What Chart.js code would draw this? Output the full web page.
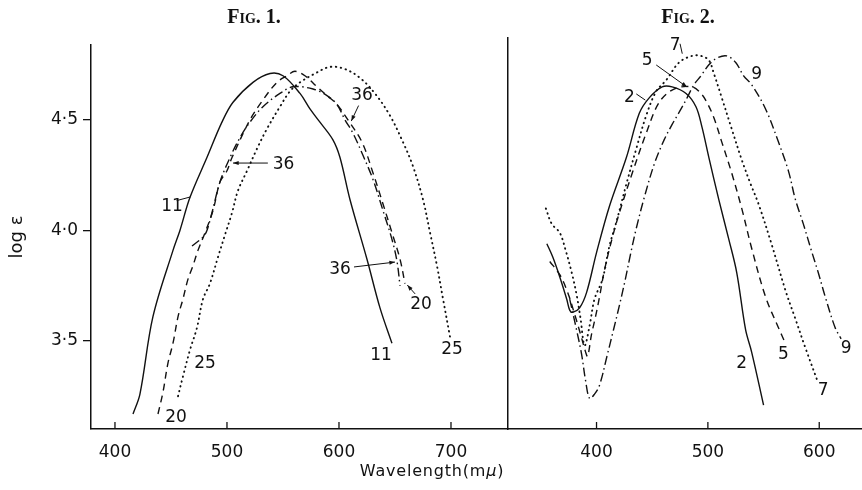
<!DOCTYPE html>
<html>
<head>
<meta charset="utf-8">
<script src="https://cdn.jsdelivr.net/npm/chart.js@4.4.1/dist/chart.umd.min.js"></script>
<style>
  body { margin: 0; background: #fff; }
  #wrap { position: relative; width: 862px; height: 490px; overflow: hidden; background: #fff; }
  canvas { position: absolute; top: 0; }
  .fig { position: absolute; top: 5px; font-family: "Liberation Serif", "DejaVu Serif", serif;
         font-variant: small-caps; font-weight: bold; font-size: 20px; color: #111; transform: translateX(-50%); }
  #xtitle { position: absolute; top: 461px; left: 432px; transform: translateX(-50%);
            font-family: "DejaVu Sans", sans-serif; font-size: 16px; letter-spacing: 0.8px; color: #111; }
</style>
</head>
<body>
<div id="wrap">
  <canvas id="fig1" width="508" height="490" style="left:0"></canvas>
  <canvas id="fig2" width="356" height="490" style="left:506px"></canvas>
  <div class="fig" style="left:254px">Fig. 1.</div>
  <div class="fig" style="left:688px">Fig. 2.</div>
  <div id="xtitle">Wavelength(m<i>μ</i>)</div>
</div>
<script>
// ---- Fig. 1 data (wavelength in mμ, log ε) ----
const f1x11 = [416.1, 422.3, 433.9, 451.8, 458.0, 467.0, 482.1, 495.5, 505.4, 523.2, 538.4, 550.0, 565.2, 574.1, 583.0, 594.6, 600.9, 609.8, 625.0, 636.6, 647.3];
const f1y11 = [3.17, 3.26, 3.61, 3.91, 4.00, 4.15, 4.33, 4.49, 4.58, 4.67, 4.71, 4.70, 4.62, 4.55, 4.49, 4.41, 4.33, 4.14, 3.87, 3.65, 3.49];

const f1x20 = [438.4, 442.9, 447.3, 451.8, 456.3, 460.7, 465.2, 469.6, 474.1, 480.4, 487.5, 493.8, 500.0, 504.5, 520.5, 532.1, 544.6, 553.6, 560.7, 569.6, 580.4, 589.3, 598.2, 608.0, 620.5, 630.4, 639.3, 647.3, 654.5, 658.9];
const f1y20 = [3.17, 3.27, 3.40, 3.49, 3.61, 3.69, 3.78, 3.84, 3.91, 3.99, 4.09, 4.22, 4.27, 4.33, 4.50, 4.59, 4.67, 4.70, 4.72, 4.70, 4.65, 4.61, 4.57, 4.50, 4.40, 4.26, 4.12, 3.99, 3.87, 3.76];

const f1x36 = [468.8, 478.6, 482.1, 486.6, 493.8, 502.7, 511.6, 520.5, 532.1, 547.3, 558.9, 576.8, 589.3, 598.2, 605.4, 612.5, 621.4, 630.4, 639.3, 647.3, 651.8, 654.5];
const f1y36 = [3.93, 3.97, 4.00, 4.08, 4.22, 4.33, 4.42, 4.49, 4.56, 4.62, 4.65, 4.64, 4.61, 4.57, 4.50, 4.44, 4.34, 4.23, 4.09, 3.96, 3.86, 3.75];

const f1x25 = [456.3, 460.7, 467.0, 473.2, 478.6, 484.8, 492.0, 498.2, 504.5, 509.8, 517.9, 526.8, 535.7, 547.3, 556.3, 565.2, 578.6, 592.0, 605.4, 618.8, 632.1, 645.5, 657.1, 666.1, 675.0, 681.3, 687.5, 692.9, 699.1];
const f1y25 = [3.25, 3.34, 3.46, 3.56, 3.69, 3.76, 3.88, 3.98, 4.08, 4.18, 4.27, 4.37, 4.46, 4.56, 4.63, 4.67, 4.71, 4.74, 4.73, 4.69, 4.62, 4.52, 4.40, 4.29, 4.14, 3.99, 3.84, 3.69, 3.52];

// ---- Fig. 2 data ----
const f2x2 = [355.4, 360.7, 367.0, 373.2, 375.9, 378.6, 384.8, 391.1, 400.0, 411.6, 426.8, 438.4, 447.3, 458.9, 467.9, 480.4, 489.3, 494.6, 500.9, 509.8, 518.8, 525.9, 533.9, 539.3, 550.0];
const f2y2 = [3.94, 3.88, 3.79, 3.69, 3.64, 3.63, 3.65, 3.72, 3.90, 4.11, 4.33, 4.53, 4.60, 4.65, 4.65, 4.62, 4.56, 4.47, 4.33, 4.14, 3.96, 3.81, 3.55, 3.45, 3.21];

const f2x5 = [358.0, 367.0, 374.1, 380.4, 385.7, 390.2, 392.0, 395.5, 399.1, 402.7, 407.1, 414.3, 420.5, 432.1, 444.6, 456.3, 469.6, 485.7, 493.8, 499.1, 505.4, 512.5, 521.4, 530.4, 539.3, 551.8, 563.4, 569.6];
const f2y5 = [3.86, 3.80, 3.72, 3.62, 3.53, 3.45, 3.43, 3.53, 3.61, 3.70, 3.82, 3.97, 4.08, 4.26, 4.44, 4.58, 4.64, 4.65, 4.62, 4.58, 4.51, 4.40, 4.26, 4.10, 3.92, 3.70, 3.56, 3.49];

const f2x7 = [354.5, 359.8, 367.0, 372.3, 377.7, 382.1, 385.7, 389.3, 393.8, 398.2, 405.4, 411.6, 417.9, 426.8, 435.7, 444.6, 453.6, 462.5, 474.1, 485.7, 493.8, 500.9, 505.4, 512.5, 521.4, 530.4, 538.4, 545.5, 557.1, 569.6, 578.6, 587.5, 599.1];
const f2y7 = [4.10, 4.03, 3.99, 3.91, 3.81, 3.71, 3.60, 3.48, 3.57, 3.69, 3.78, 3.93, 4.04, 4.21, 4.37, 4.52, 4.63, 4.68, 4.76, 4.79, 4.79, 4.77, 4.71, 4.60, 4.46, 4.32, 4.21, 4.12, 3.94, 3.73, 3.60, 3.47, 3.31];

const f2x9 = [375.9, 382.1, 386.6, 390.2, 393.8, 398.2, 402.7, 409.8, 415.2, 420.5, 425.9, 430.4, 435.7, 442.9, 451.8, 460.7, 467.9, 475.9, 481.3, 487.5, 493.8, 500.9, 508.0, 517.0, 525.0, 532.1, 539.3, 551.8, 563.4, 572.3, 578.6, 585.7, 592.9, 599.1, 605.4, 614.3, 619.6];
const f2y9 = [3.69, 3.55, 3.44, 3.32, 3.24, 3.26, 3.30, 3.44, 3.55, 3.66, 3.78, 3.89, 4.01, 4.15, 4.30, 4.41, 4.48, 4.55, 4.60, 4.66, 4.70, 4.75, 4.78, 4.79, 4.76, 4.70, 4.66, 4.55, 4.40, 4.27, 4.14, 4.03, 3.91, 3.81, 3.70, 3.56, 3.51];

// ---- ticks ----
const yTicks = [3.5, 4.0, 4.5];
const xTicks1 = [400, 500, 600, 700];
const xTicks2 = [400, 500, 600];

// curve labels and leader lines, in data units
const notes1 = [
  { text: "11", x: 450.9, y: 4.106, from: [455.0, 4.135], to: [467.5, 4.152] },
  { text: "36", x: 550.5, y: 4.296, from: [536.5, 4.305], to: [505.4, 4.305], arrow: true },
  { text: "36", x: 620.5, y: 4.610, from: [617.5, 4.565], to: [611.0, 4.495], arrow: true },
  { text: "36", x: 600.9, y: 3.821, from: [613.4, 3.835], to: [650.0, 3.857], arrow: true },
  { text: "20", x: 673.2, y: 3.663, from: [668.0, 3.713], to: [661.0, 3.753], arrow: true },
  { text: "11", x: 637.5, y: 3.432 },
  { text: "25", x: 700.9, y: 3.459 },
  { text: "25", x: 480.4, y: 3.396 },
  { text: "20", x: 454.5, y: 3.152 }
];
const notes2 = [
  { text: "2", x: 429.5, y: 4.600, from: [435.7, 4.618], to: [443.8, 4.590] },
  { text: "5", x: 445.5, y: 4.771, from: [453.6, 4.749], to: [481.3, 4.649], arrow: true },
  { text: "7", x: 470.5, y: 4.835, from: [475.0, 4.845], to: [477.0, 4.800] },
  { text: "9", x: 543.8, y: 4.704 },
  { text: "2", x: 530.4, y: 3.400 },
  { text: "5", x: 567.9, y: 3.437 },
  { text: "7", x: 603.6, y: 3.278 },
  { text: "9", x: 624.1, y: 3.468 }
];

const ink = "#111";
const solid = [];
const dashed = [7, 5];
const dashDot = [9, 3.5, 1.5, 3.5];
const dotted = [0.5, 4.5];

function series(xs, ys, dash) {
  return {
    data: xs.map((x, i) => ({ x: x, y: ys[i] })),
    borderColor: ink,
    borderWidth: dash === dotted ? 1.9 : 1.4,
    borderDash: dash,
    borderCapStyle: dash === dotted ? "round" : "butt",
    pointRadius: 0,
    tension: 0.35,
    fill: false
  };
}

const notesPlugin = {
  id: "notes",
  afterDatasetsDraw(chart, args, opts) {
    const ctx = chart.ctx;
    const xs = chart.scales.x, ys = chart.scales.y;
    ctx.save();
    ctx.fillStyle = ink;
    ctx.strokeStyle = ink;
    ctx.lineWidth = 1;
    ctx.font = "17px 'DejaVu Sans', sans-serif";
    ctx.textAlign = "center";
    ctx.textBaseline = "middle";
    opts.notes.forEach((n) => {
      ctx.fillText(n.text, xs.getPixelForValue(n.x), ys.getPixelForValue(n.y));
      if (!n.from) return;
      const x1 = xs.getPixelForValue(n.from[0]), y1 = ys.getPixelForValue(n.from[1]);
      const x2 = xs.getPixelForValue(n.to[0]), y2 = ys.getPixelForValue(n.to[1]);
      ctx.beginPath();
      ctx.moveTo(x1, y1);
      ctx.lineTo(x2, y2);
      ctx.stroke();
      if (n.arrow) {
        const a = Math.atan2(y2 - y1, x2 - x1);
        ctx.beginPath();
        ctx.moveTo(x2, y2);
        ctx.lineTo(x2 - 6 * Math.cos(a - 0.35), y2 - 6 * Math.sin(a - 0.35));
        ctx.lineTo(x2 - 6 * Math.cos(a + 0.35), y2 - 6 * Math.sin(a + 0.35));
        ctx.closePath();
        ctx.fill();
      }
    });
    // x tick marks point inwards
    const bottom = chart.chartArea.bottom;
    ctx.lineWidth = 1.3;
    xs.ticks.forEach((t) => {
      const px = xs.getPixelForValue(t.value);
      ctx.beginPath();
      ctx.moveTo(px, bottom);
      ctx.lineTo(px, bottom - 7);
      ctx.stroke();
    });
    ctx.restore();
  }
};

function xScale(min, max, ticks) {
  return {
    type: "linear",
    min: min,
    max: max,
    afterBuildTicks: (s) => { s.ticks = ticks.map((v) => ({ value: v })); },
    afterFit: (s) => { s.height = 61; },
    grid: { display: false, drawTicks: false },
    border: { display: true, color: ink, width: 1.5 },
    ticks: { color: ink, padding: 13, font: { family: "DejaVu Sans", size: 17 } }
  };
}

const tickFmt = (v) => v.toFixed(1).replace(".", "\u00b7");

new Chart(document.getElementById("fig1"), {
  type: "line",
  data: {
    datasets: [
      series(f1x11, f1y11, solid),
      series(f1x20, f1y20, dashed),
      series(f1x36, f1y36, dashDot),
      series(f1x25, f1y25, dotted)
    ]
  },
  options: {
    responsive: false,
    animation: false,
    layout: { padding: { top: 45, left: 0, right: 0, bottom: 0 } },
    scales: {
      x: xScale(378.6, 750.9, xTicks1),
      y: {
        type: "linear",
        min: 3.102,
        max: 4.839,
        afterBuildTicks: (s) => { s.ticks = yTicks.map((v) => ({ value: v })); },
        afterFit: (s) => { s.width = 91; },
        grid: { drawOnChartArea: false, drawTicks: true, tickLength: 8, color: ink, lineWidth: 1.3 },
        border: { display: true, color: ink, width: 1.5 },
        ticks: { color: ink, padding: 5, font: { family: "DejaVu Sans", size: 17 }, callback: tickFmt },
        title: { display: true, text: "log \u03b5", color: ink, padding: 7, font: { family: "DejaVu Sans", size: 18 } }
      }
    },
    plugins: {
      legend: { display: false },
      tooltip: { enabled: false },
      notes: { notes: notes1 }
    }
  },
  plugins: [notesPlugin]
});

new Chart(document.getElementById("fig2"), {
  type: "line",
  data: {
    datasets: [
      series(f2x2, f2y2, solid),
      series(f2x5, f2y5, dashed),
      series(f2x7, f2y7, dotted),
      series(f2x9, f2y9, dashDot)
    ]
  },
  options: {
    responsive: false,
    animation: false,
    layout: { padding: { top: 38, left: 2, right: 0, bottom: 0 } },
    scales: {
      x: xScale(320.5, 638.4, xTicks2),
      y: {
        type: "linear",
        min: 3.102,
        max: 4.871,
        afterFit: (s) => { s.width = 0; },
        grid: { display: false, drawTicks: false },
        border: { display: true, color: ink, width: 1.5 },
        ticks: { display: false }
      }
    },
    plugins: {
      legend: { display: false },
      tooltip: { enabled: false },
      notes: { notes: notes2 }
    }
  },
  plugins: [notesPlugin]
});
</script>
</body>
</html>
